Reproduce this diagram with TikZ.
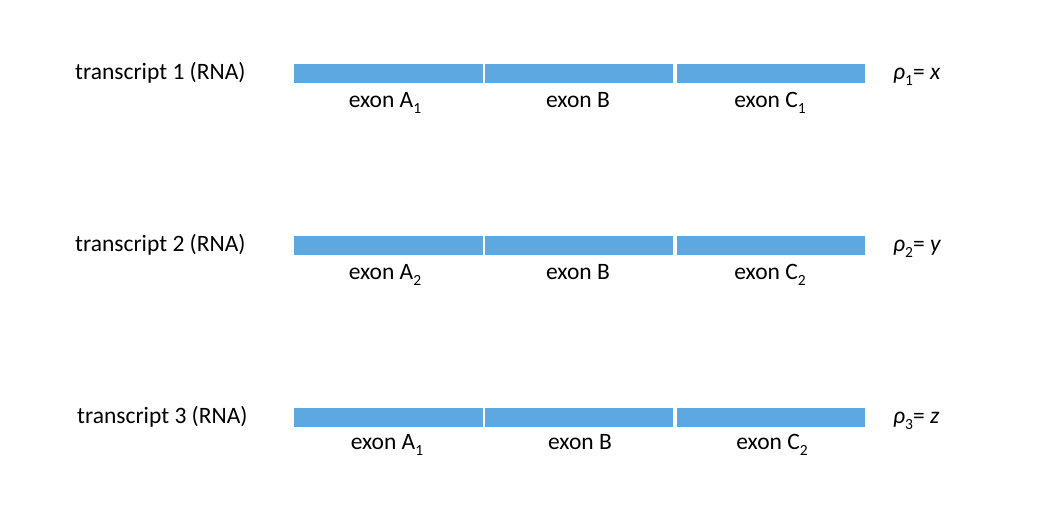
\documentclass[tikz,border=0pt]{standalone}
\usepackage{fontspec}
\setmainfont{Carlito}
\definecolor{barblue}{RGB}{93,168,224}
\newcommand\lsub[1]{\raisebox{-0.45ex}{\fontsize{15.5}{16}\selectfont #1}}
\begin{document}
\begin{tikzpicture}[x=1pt,y=1pt,
  exonbar/.style={fill=barblue,draw=none,minimum height=19pt,inner sep=0pt,anchor=west},
  lab/.style={font=\fontsize{23.5}{26}\selectfont,inner sep=0pt,anchor=base},
  rholab/.style={font=\fontsize{23.5}{26}\selectfont,inner sep=0pt,anchor=base west}]
\useasboundingbox (0,0) rectangle (1044,526);
\foreach \r/\yy/\ai/\ci/\rr/\vv/\tx/\dx/\dy in {1/452/1/1/1/x/75/0/34, 2/280/2/2/2/y/75/0/34, 3/108/1/2/3/z/77/2/32}{
  \node[exonbar,minimum width=189pt] (a\r) at (294,\yy) {};
  \node[exonbar,minimum width=188pt] (b\r) at (485,\yy) {};
  \node[exonbar,minimum width=188pt] (c\r) at (677,\yy) {};
  \node[lab,anchor=base west] (t\r) at (\tx,\yy-6) {transcript \r\ (RNA)};
  \node[lab] (la\r) at (385+\dx,\yy-\dy) {exon A\lsub{\ai}};
  \node[lab] (lb\r) at (578+\dx,\yy-\dy) {exon B};
  \node[lab] (lc\r) at (770+\dx,\yy-\dy) {exon C\lsub{\ci}};
  \node[rholab] (p\r) at (893,\yy-6) {\itshape ρ\lsub{\upshape\rr}\upshape= \itshape \vv};
}
\end{tikzpicture}
\end{document}
